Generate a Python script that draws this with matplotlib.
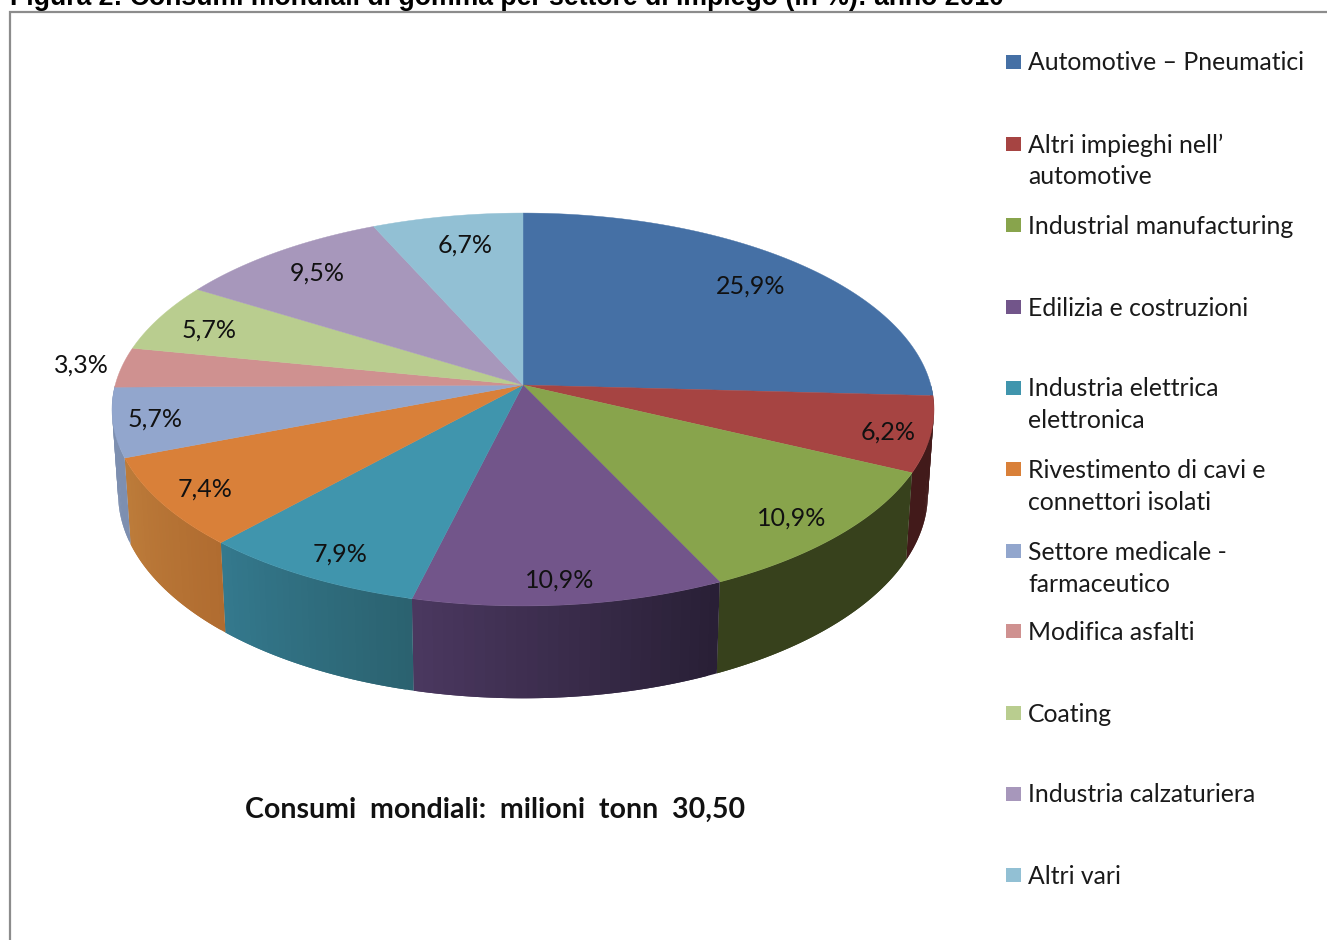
"""Consumi mondiali di gomma per settore di impiego - 3D pie with perspective."""

import numpy as np
import matplotlib
matplotlib.use('Agg')
import matplotlib.pyplot as plt
from matplotlib.patches import Rectangle

W, H = 1327, 940

sectors = ['Automotive – Pneumatici', 'Altri impieghi nell’\nautomotive',
           'Industrial manufacturing', 'Edilizia e costruzioni',
           'Industria elettrica\nelettronica', 'Rivestimento di cavi e\nconnettori isolati',
           'Settore medicale -\nfarmaceutico', 'Modifica asfalti', 'Coating',
           'Industria calzaturiera', 'Altri vari']
shares = [25.9, 6.2, 10.9, 10.9, 7.9, 7.4, 5.7, 3.3, 5.7, 9.5, 6.7]
top_colors = ['#4570a5', '#a64442', '#88a44c', '#72558a', '#4095ad', '#d98039',
              '#92a6cd', '#cf9190', '#b9cd8f', '#a797bb', '#92c0d4']
# side colours, start and end of each slice going clockwise
side_start = ['#2b4465', '#421a1a', '#37411c', '#281f35', '#2b6270', '#b06c30',
              '#7d8fb0', '#7d8fb0', '#7d8fb0', '#7d8fb0', '#7d8fb0']
side_end = ['#2b4465', '#421a1a', '#37411c', '#4b3860', '#34798d', '#bd7c3a',
            '#7d8fb0', '#7d8fb0', '#7d8fb0', '#7d8fb0', '#7d8fb0']

# pixel positions of the labels and legend rows
label_xy = [(751, 286), (888, 432), (792, 518), (560, 580), (340, 554), (205, 489),
            (155, 419), (81, 365), (209, 330), (317, 273), (465, 245)]
legend_y = [63, 145, 226, 308, 389, 470, 552, 632, 714, 795, 876]

# perspective of the top face
CX, CY = 523, 385
A, B, K = 407.8, 193.4, 0.1247


def project(theta):
    """theta in degrees clockwise from 12 o'clock -> pixel coords on top rim."""
    t = np.radians(theta)
    X, Y = np.sin(t), np.cos(t)
    d = 1 + K * Y
    return CX + A * X / d, CY - B * Y / d


def lower(x, y):
    """Same rim on the bottom of the pie."""
    return CX + (x - CX) * 0.985, CY + (y - CY) * 1.04 + 83.5


def mix(c1, c2, f):
    c1, c2 = np.array(matplotlib.colors.to_rgb(c1)), np.array(matplotlib.colors.to_rgb(c2))
    return c1 + (c2 - c1) * f


fig = plt.figure(figsize=(W / 100, H / 100), dpi=100)
ax = fig.add_axes([0, 0, 1, 1])
ax.set_xlim(0, W)
ax.set_ylim(H, 0)
ax.axis('off')

# frame and title, cut by the top of the page
ax.plot([10, 10, W], [H, 12, 12], color='#8c8c8c', lw=1.6, solid_joinstyle='miter')
ax.text(10, 5, 'Figura 2: Consumi mondiali di gomma per settore di impiego (in %): anno 2010',
        family='Liberation Sans', fontweight='bold', fontsize=19.2, va='baseline', color='black')

# the printed shares add up to 100.1, so scale them like a pie does
edges = np.concatenate([[0], np.cumsum(shares)]) / sum(shares) * 360

# sides first: only the front half shows. Each strip runs over the next one
# so no white seams show between them
for i in range(len(shares)):
    a0, a1 = max(edges[i], 90), min(edges[i + 1], 270)
    if a1 <= a0:
        continue
    steps = np.linspace(a0, a1, 31)
    for j in range(30):
        th = np.linspace(steps[j], steps[min(j + 2, 30)], 5)
        x, y = project(th)
        xb, yb = lower(x, y)
        c = mix(side_start[i], side_end[i], (j + 0.5) / 30)
        ax.fill(np.r_[x, xb[::-1]], np.r_[y, yb[::-1]], color=c, lw=0)

# top face
for i in range(len(shares)):
    th = np.linspace(edges[i], edges[i + 1], 120)
    x, y = project(th)
    ax.fill(np.r_[CX, x], np.r_[CY, y], color=top_colors[i], lw=0.3)

for val, (lx, ly) in zip(shares, label_xy):
    ax.text(lx, ly, f'{val:.1f}%'.replace('.', ','), family='Lato', fontsize=18,
            ha='center', va='center', color='#111111')

# legend, rows are not evenly spaced
for name, y, col in zip(sectors, legend_y, top_colors):
    ax.add_patch(Rectangle((1006, y - 8), 15, 14, facecolor=col, edgecolor='none'))
    for k, line in enumerate(name.split('\n')):
        ax.text(1028, y + k * 32, line, family='Lato', fontsize=17.8,
                va='center', ha='left', color='#1a1a1a')

ax.text(495, 810, 'Consumi  mondiali:  milioni  tonn  30,50', family='Lato', fontweight='bold',
        fontsize=20.5, ha='center', va='center', color='#111111')

fig.savefig('out.png', dpi=100)
